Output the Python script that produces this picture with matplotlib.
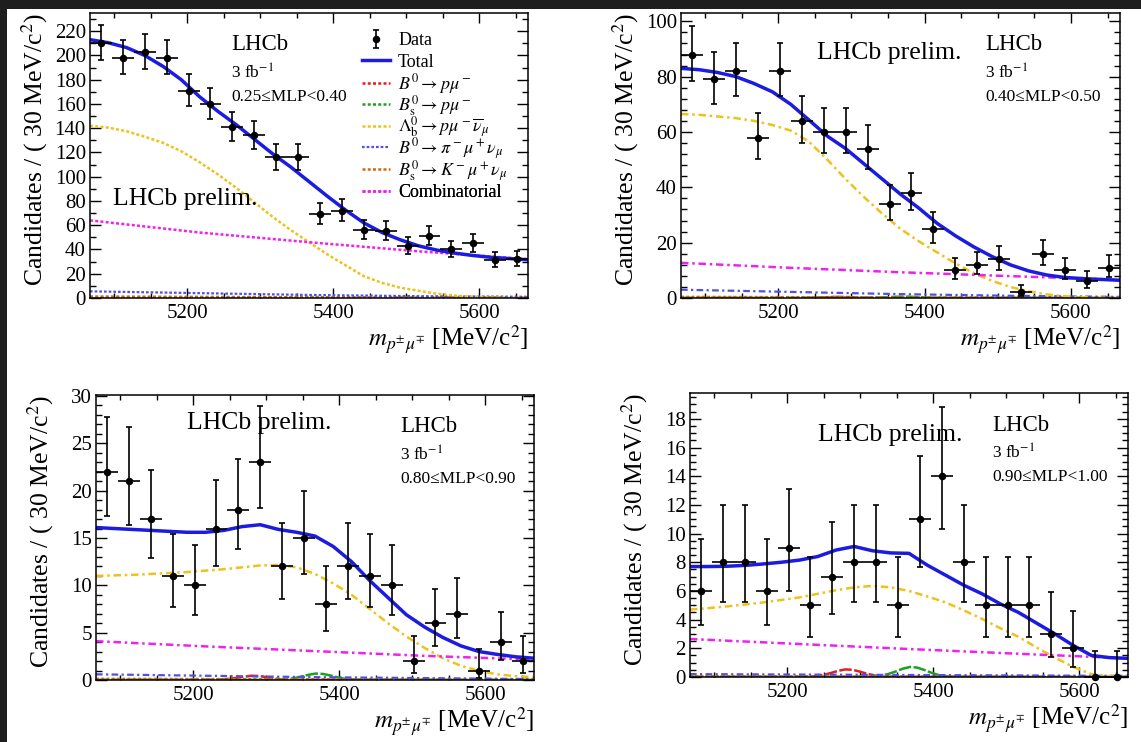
import matplotlib
matplotlib.use("Agg")
import matplotlib.pyplot as plt
from matplotlib.patches import Rectangle
from matplotlib.ticker import MultipleLocator

plt.rcParams['font.family'] = ['Liberation Serif', 'DejaVu Serif']
plt.rcParams['mathtext.fontset'] = 'stix'

W, H = 1141, 742

# binning: 20 bins of 30 MeV
x_lo, x_hi = 5067, 5667
bin_centres = [5082, 5112, 5142, 5172, 5202, 5232, 5262, 5292, 5322, 5352,
               5382, 5412, 5442, 5472, 5502, 5532, 5562, 5592, 5622, 5652]
half_bin = 15

curve_x = [5067, 5092, 5117, 5142, 5167, 5192, 5217, 5242, 5267, 5292, 5317, 5342, 5367,
           5392, 5417, 5442, 5467, 5492, 5517, 5542, 5567, 5592, 5617, 5642, 5667]
slow_x = [5067, 5217, 5367, 5517, 5667]
bd_x = [5067, 5220, 5230, 5240, 5250, 5260, 5270, 5280, 5290, 5300, 5310, 5320, 5330, 5340, 5667]
bs_x = [5067, 5308, 5318, 5328, 5338, 5348, 5358, 5368, 5378, 5388, 5398, 5408, 5418, 5428, 5667]

# ---- panel 1: 0.25<=MLP<0.40
counts_1 = [210, 198, 203, 198, 171, 160, 141, 134, 116, 116, 69, 72, 56, 55, 43, 51, 40, 45, 31, 32]
lo_1 = [14.0, 13.6, 13.8, 13.6, 12.6, 12.1, 11.4, 11.1, 10.3, 10.3, 8.3, 8.5, 7.5, 7.4, 6.5, 7.1, 6.3, 6.7, 5.5, 5.6]
hi_1 = [15.0, 14.6, 14.8, 14.6, 13.6, 13.1, 12.4, 12.1, 11.3, 11.3, 9.3, 9.5, 8.5, 8.4, 7.6, 8.2, 7.4, 7.7, 6.6, 6.7]
total_1 = [213, 210.5, 206.5, 200, 191, 180, 166, 154, 143, 131, 119, 108, 96,
           84, 72.5, 62, 54, 48, 43, 39.5, 37, 35, 33.5, 32.5, 31.5]
lambdab_1 = [142, 140.5, 137.5, 133, 128, 121, 112, 102, 91, 79, 67, 56, 46,
             36, 27, 18, 12.5, 8.5, 6, 3.5, 2, 1, 0.4, 0.1, 0]
comb_1 = [64, 54, 46, 38.5, 32]
pion_1 = [5.5, 4.0, 2.5, 1.5, 1.0]
kaon_1 = [1.2, 0.9, 0.6, 0.4, 0.3]
bd_1 = [0, 0.01, 0.04, 0.08, 0.17, 0.32, 0.49, 0.6, 0.56, 0.42, 0.25, 0.11, 0.04, 0.01, 0]
bs_1 = [0, 0.01, 0.05, 0.1, 0.22, 0.42, 0.65, 0.8, 0.75, 0.56, 0.33, 0.15, 0.06, 0.01, 0]

# ---- panel 2: 0.40<=MLP<0.50
counts_2 = [88, 79, 82, 58, 82, 64, 60, 60, 54, 34, 38, 25, 10, 12, 14, 2, 16, 10, 6, 11]
lo_2 = [9.4, 8.9, 9.0, 7.6, 9.0, 8.0, 7.7, 7.7, 7.3, 5.8, 6.1, 5.0, 3.1, 3.4, 3.7, 1.3, 4.0, 3.1, 2.4, 3.3]
hi_2 = [10.4, 9.9, 10.1, 8.7, 10.1, 9.0, 8.8, 8.8, 8.4, 6.9, 7.2, 6.1, 4.3, 4.6, 4.8, 2.6, 5.1, 4.3, 3.6, 4.4]
total_2 = [83, 82.5, 81.5, 80, 77.5, 74.5, 70, 64.3, 58.5, 54, 48.5, 43, 37.5,
           32.5, 27, 22.5, 18.5, 15, 12, 9.8, 8.3, 7.4, 7, 6.7, 6.4]
lambdab_2 = [66.5, 66.2, 65.6, 65, 64, 62.5, 60.5, 56.5, 50, 43, 36.5, 30.5, 25,
             20.5, 16.5, 12.5, 9, 6.2, 4, 2.4, 1.3, 0.6, 0.3, 0.1, 0]
comb_2 = [12.7, 10.9, 9.3, 7.9, 6.6]
pion_2 = [3.0, 2.2, 1.4, 0.8, 0.4]
kaon_2 = [0.4, 0.3, 0.2, 0.15, 0.1]
bd_2 = [0, 0.01, 0.02, 0.05, 0.11, 0.21, 0.33, 0.4, 0.38, 0.28, 0.16, 0.07, 0.03, 0.01, 0]
bs_2 = [0, 0.01, 0.03, 0.06, 0.14, 0.26, 0.41, 0.5, 0.47, 0.35, 0.21, 0.09, 0.04, 0.01, 0]

# ---- panel 3: 0.80<=MLP<0.90
counts_3 = [22, 21, 17, 11, 10, 16, 18, 23, 12, 15, 8, 12, 11, 10, 2, 6, 7, 1, 4, 2]
lo_3 = [4.7, 4.6, 4.1, 3.3, 3.1, 4.0, 4.2, 4.8, 3.4, 3.8, 2.8, 3.4, 3.3, 3.1, 1.3, 2.4, 2.6, 0.8, 1.9, 1.3]
hi_3 = [5.8, 5.7, 5.2, 4.4, 4.3, 5.1, 5.3, 5.9, 4.6, 5.0, 4.0, 4.6, 4.4, 4.3, 2.6, 3.6, 3.8, 2.3, 3.2, 2.6]
total_3 = [16.1, 16.0, 15.9, 15.8, 15.7, 15.6, 15.6, 15.8, 16.2, 16.4, 15.9, 15.6, 15.2,
           14.1, 12.5, 10.5, 8.7, 6.9, 5.6, 4.5, 3.6, 3.0, 2.7, 2.45, 2.3]
lambdab_3 = [11.0, 11.05, 11.1, 11.2, 11.3, 11.4, 11.55, 11.7, 11.9, 12.1, 12.15, 11.9, 11.2,
             10.2, 9.0, 7.5, 6.0, 4.6, 3.4, 2.3, 1.5, 0.95, 0.6, 0.4, 0.3]
comb_3 = [4.1, 3.55, 3.05, 2.55, 2.15]
pion_3 = [0.6, 0.45, 0.3, 0.2, 0.1]
kaon_3 = [0.12, 0.1, 0.08, 0.06, 0.05]
bd_3 = [0, 0.01, 0.03, 0.06, 0.13, 0.24, 0.37, 0.45, 0.42, 0.31, 0.18, 0.08, 0.03, 0.01, 0]
bs_3 = [0, 0.01, 0.04, 0.09, 0.19, 0.36, 0.55, 0.68, 0.64, 0.48, 0.28, 0.13, 0.05, 0.01, 0]

# ---- panel 4: 0.90<=MLP<1.00
counts_4 = [6, 8, 8, 6, 9, 5, 7, 8, 8, 5, 11, 14, 8, 5, 5, 5, 3, 2, 0, 0]
lo_4 = [2.4, 2.8, 2.8, 2.4, 3.0, 2.2, 2.6, 2.8, 2.8, 2.2, 3.3, 3.7, 2.8, 2.2, 2.2, 2.2, 1.6, 1.3, 0.0, 0.0]
hi_4 = [3.6, 4.0, 4.0, 3.6, 4.1, 3.4, 3.8, 4.0, 4.0, 3.4, 4.4, 4.8, 4.0, 3.4, 3.4, 3.4, 2.9, 2.6, 1.8, 1.8]
total_4 = [7.7, 7.7, 7.72, 7.78, 7.88, 8.0, 8.15, 8.4, 8.85, 9.1, 8.8, 8.65, 8.62,
           7.8, 7.1, 6.4, 5.8, 5.1, 4.5, 3.75, 3.0, 2.2, 1.5, 1.35, 1.3]
lambdab_4 = [4.7, 4.8, 4.92, 5.05, 5.2, 5.37, 5.55, 5.8, 6.05, 6.25, 6.35, 6.25, 6.0,
             5.62, 5.2, 4.65, 4.05, 3.4, 2.8, 2.05, 1.35, 0.7, 0.2, 0.05, 0]
comb_4 = [2.65, 2.3, 1.95, 1.62, 1.3]
pion_4 = [0.2, 0.17, 0.14, 0.11, 0.08]
kaon_4 = [0.05, 0.04, 0.03, 0.02, 0.02]
bd_4 = [0, 0.01, 0.03, 0.07, 0.15, 0.28, 0.43, 0.53, 0.5, 0.37, 0.22, 0.1, 0.04, 0.01, 0]
bs_4 = [0, 0.01, 0.04, 0.09, 0.2, 0.37, 0.57, 0.7, 0.66, 0.49, 0.29, 0.13, 0.05, 0.01, 0]

mlp_labels = ['0.25≤MLP<0.40', '0.40≤MLP<0.50', '0.80≤MLP<0.90', '0.90≤MLP<1.00']
legend_labels = ['Data', 'Total', r'$B^0 \to p\mu^-$', r'$B^0_{\mathrm{s}} \to p\mu^-$',
                 r'$\Lambda^0_{\mathrm{b}} \to p\mu^-\overline{\nu}_\mu$',
                 r'$B^0 \to \pi^-\mu^+\nu_\mu$', r'$B^0_{\mathrm{s}} \to K^-\mu^+\nu_\mu$',
                 'Combinatorial']
y_tops = [235, 103, 30.1, 19.8]
y_major = [20, 20, 5, 2]
y_minor = [10, 4, 1, 0.5]

# layout in pixels: (left, top, right, bottom)
boxes = [(90, 13, 528, 298), (681, 13, 1120, 298), (96, 395, 534, 680), (690, 393, 1128, 677)]
prelim_pos = [(113, 199), (817, 53), (187, 423), (818, 435)]
lhcb_pos = [(231, 45), (985, 45), (400, 427), (992, 425)]
legend_top_px, legend_step_px = 40.5, 21.7

panels = [
    (counts_1, lo_1, hi_1, total_1, lambdab_1, comb_1, pion_1, kaon_1, bd_1, bs_1),
    (counts_2, lo_2, hi_2, total_2, lambdab_2, comb_2, pion_2, kaon_2, bd_2, bs_2),
    (counts_3, lo_3, hi_3, total_3, lambdab_3, comb_3, pion_3, kaon_3, bd_3, bs_3),
    (counts_4, lo_4, hi_4, total_4, lambdab_4, comb_4, pion_4, kaon_4, bd_4, bs_4),
]

c_total = '#1c1ce0'
c_bd = '#e02020'
c_bs = '#1ea01e'
c_lb = '#eec21a'
c_pi = '#5050e8'
c_k = '#d06a10'
c_comb = '#ee22ee'


def fx(px):
    return px / W


def fy(py):
    return 1 - py / H


fig = plt.figure(figsize=(W / 100, H / 100), dpi=100, facecolor='#1e1e1e')
fig.add_artist(Rectangle((fx(7), 0), 1 - fx(7), fy(9), transform=fig.transFigure,
                         facecolor='white', edgecolor='none', zorder=-10))

for i, (cnt, elo, ehi, tot, lb, comb, pion, kaon, bd, bs) in enumerate(panels):
    l, t, r, b = boxes[i]
    ax = fig.add_axes([fx(l), fy(b), (r - l) / W, (b - t) / H])

    if i == 0:
        ls_bg = (0, (1.2, 0.9))
        ls_pk = (0, (1.2, 0.9))
    else:
        ls_bg = (0, (3, 1.5, 1, 1.5))
        ls_pk = (0, (5, 1))

    h_bd, = ax.plot(bd_x, bd, color=c_bd, lw=1.8, ls=ls_pk)
    h_bs, = ax.plot(bs_x, bs, color=c_bs, lw=1.8, ls=ls_pk)
    h_k, = ax.plot(slow_x, kaon, color=c_k, lw=1.8, ls=(0, (1.2, 0.9)))
    h_pi, = ax.plot(slow_x, pion, color=c_pi, lw=1.6, ls=ls_bg)
    h_lb, = ax.plot(curve_x, lb, color=c_lb, lw=1.8, ls=ls_bg)
    h_comb, = ax.plot(slow_x, comb, color=c_comb, lw=1.8, ls=ls_bg)
    h_tot, = ax.plot(curve_x, tot, color=c_total, lw=2.5)

    ax.errorbar(bin_centres, cnt, xerr=half_bin, fmt='none', ecolor='black',
                elinewidth=1.2, capsize=0, zorder=5, clip_on=False)
    h_data = ax.errorbar(bin_centres, cnt, yerr=[elo, ehi], fmt='o', color='black',
                         ms=4.4, elinewidth=1.2, capsize=2.5, capthick=1.2,
                         zorder=6, clip_on=False)

    ax.set_xlim(x_lo, x_hi)
    ax.set_ylim(0, y_tops[i])

    ax.xaxis.set_major_locator(MultipleLocator(200))
    ax.xaxis.set_minor_locator(MultipleLocator(50))
    ax.yaxis.set_major_locator(MultipleLocator(y_major[i]))
    ax.yaxis.set_minor_locator(MultipleLocator(y_minor[i]))
    ax.tick_params(which='both', direction='in', top=True, right=True, labelsize=15,
                   width=1.0, colors='black')
    ax.tick_params(axis='y', which='major', length=8, pad=3)
    ax.tick_params(axis='y', which='minor', length=4)
    ax.tick_params(axis='x', which='major', length=7, pad=4)
    ax.tick_params(axis='x', which='minor', length=3.5)
    for s in ax.spines.values():
        s.set_linewidth(1.1)

    ax.set_ylabel('Candidates / ( 30 MeV/c$^2$)', fontsize=18.5, loc='top')
    ax.yaxis.set_label_coords(-40 / (r - l), 1.0)
    ax.set_xlabel(r'$m_{p^{\pm}\mu^{\mp}}$ [MeV/c$^2$]', fontsize=18, loc='right')
    ax.xaxis.set_label_coords(1.0, -0.088)

    px, py = prelim_pos[i]
    fig.text(fx(px), fy(py), 'LHCb prelim.', fontsize=18.5, ha='left', va='center')
    qx, qy = lhcb_pos[i]
    fig.text(fx(qx), fy(qy), 'LHCb', fontsize=16.5, ha='left', va='center')
    fig.text(fx(qx), fy(qy + 28), '3 fb$^{-1}$', fontsize=12.5, ha='left', va='center')
    fig.text(fx(qx), fy(qy + 52), mlp_labels[i], fontsize=12.5, ha='left', va='center')

    if i == 0:
        # one single-entry legend per row, so the rows are evenly spaced like ROOT's TLegend
        handles = [h_data, h_tot, h_bd, h_bs, h_lb, h_pi, h_k, h_comb]
        for k, (h, lab) in enumerate(zip(handles, legend_labels)):
            row_y = legend_top_px + legend_step_px * k
            leg = ax.legend([h], [lab], loc='center left',
                            bbox_to_anchor=(0.621, (b - row_y) / (b - t)),
                            frameon=False, fontsize=13, handlelength=1.55,
                            handletextpad=0.45, borderpad=0, borderaxespad=0)
            ax.add_artist(leg)

fig.savefig('out.png', dpi=100, facecolor=fig.get_facecolor())
